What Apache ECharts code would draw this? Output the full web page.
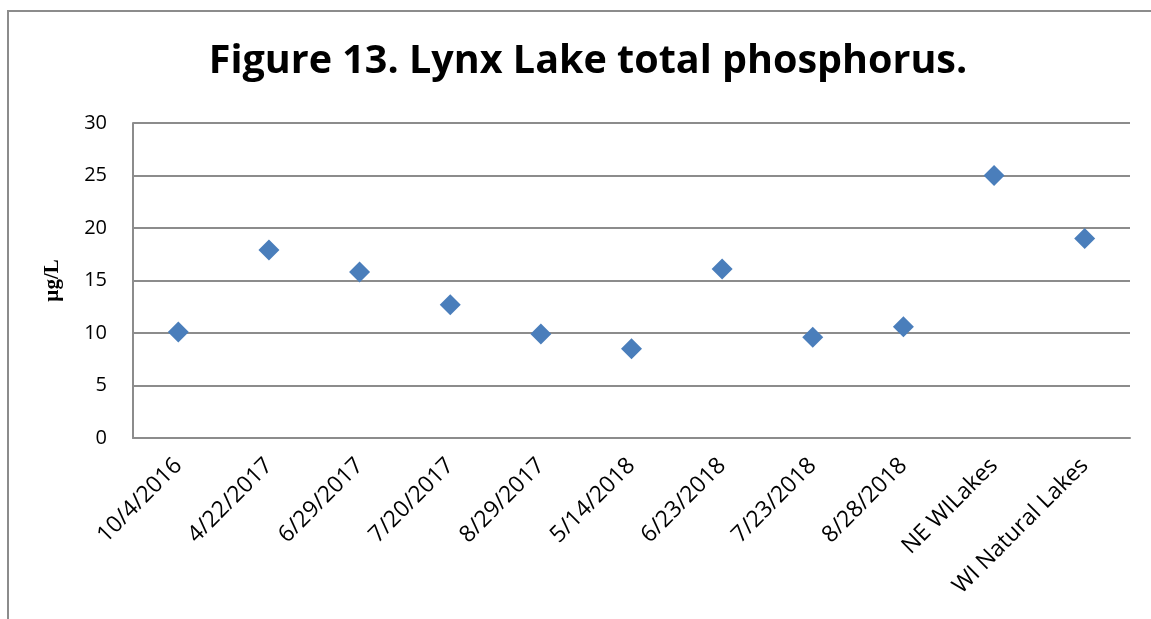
<!DOCTYPE html>
<html>
<head>
<meta charset="utf-8">
<script src="https://cdn.jsdelivr.net/npm/echarts@6/dist/echarts.min.js"></script>
<style>
    html, body { margin: 0; padding: 0; background: #fff; overflow: hidden; }
    #frame {
        position: absolute; left: 7px; top: 10px; width: 1200px; height: 700px;
        border-left: 2px solid #8c8c8c; border-top: 2px solid #8c8c8c;
    }
    #chart { position: absolute; left: 0; top: 0; width: 1151px; height: 619px; }
</style>
</head>
<body>
<div id="frame"></div>
<div id="chart"></div>
<script>
// 数据
const categories = ['10/4/2016', '4/22/2017', '6/29/2017', '7/20/2017', '8/29/2017', '5/14/2018',
    '6/23/2018', '7/23/2018', '8/28/2018', 'NE WILakes', 'WI Natural Lakes']
const phosphorus = [10.1, 17.9, 15.8, 12.7, 9.9, 8.5, 16.1, 9.6, 10.6, 25, 19]
const yTicks = [0, 5, 10, 15, 20, 25, 30]

;(function () {
    const mychart = echarts.init(document.getElementById('chart'))
    const gray = '#8c8c8c'
    let option = {
        animation: false,
        title: {
            text: 'Figure 13. Lynx Lake total phosphorus.',
            left: 583,
            top: 37,
            textAlign: 'center',
            textStyle: {
                fontFamily: 'Open Sans',
                fontWeight: 'bold',
                fontSize: 39.5,
                color: '#000',
            },
        },
        grid: {
            left: 133,
            right: 21,
            top: 123,
            bottom: 181,
        },
        xAxis: {
            type: 'category',
            data: categories,
            axisLine: { lineStyle: { color: gray, width: 2 } },
            axisTick: { show: false },
            axisLabel: {
                rotate: 45,
                interval: 0,
                margin: 24,
                color: '#000',
                fontFamily: 'Open Sans',
                fontSize: 23,
            },
        },
        yAxis: {
            type: 'value',
            min: yTicks[0],
            max: yTicks[yTicks.length - 1],
            interval: 5,
            name: 'µg/L',
            nameLocation: 'middle',
            nameGap: 70,
            nameRotate: 90,
            nameTextStyle: {
                fontFamily: 'Liberation Serif',
                fontWeight: 'bold',
                fontSize: 21,
                color: '#000',
            },
            axisLine: { show: true, lineStyle: { color: gray, width: 2 } },
            axisTick: { show: false },
            splitLine: { lineStyle: { color: gray, width: 2 } },
            axisLabel: {
                margin: 26,
                color: '#000',
                fontFamily: 'Open Sans',
                fontSize: 20,
            },
        },
        series: [
            {
                name: 'Total phosphorus',
                type: 'scatter',
                data: phosphorus,
                symbol: 'diamond',
                symbolSize: [21, 21],
                itemStyle: { color: '#4a7ebb', opacity: 1 },
            },
        ],
    }
    mychart.setOption(option)
})()
</script>
</body>
</html>
